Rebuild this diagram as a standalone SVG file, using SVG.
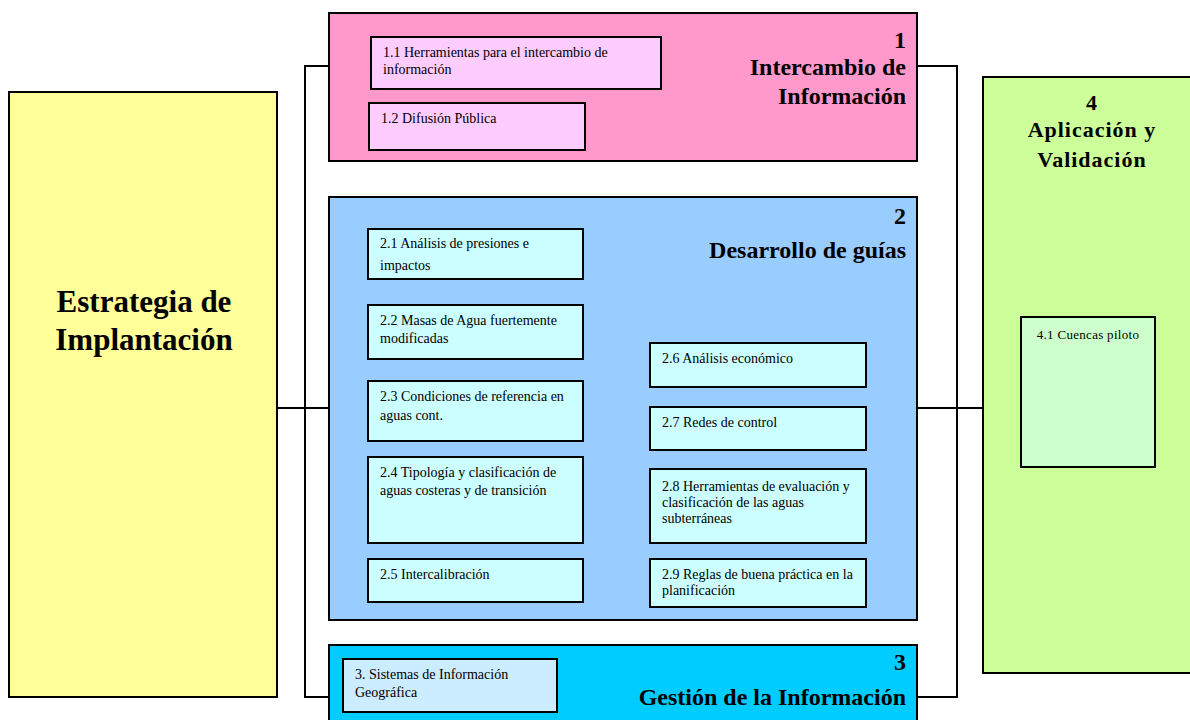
<svg xmlns="http://www.w3.org/2000/svg" width="1190" height="720" viewBox="0 0 1190 720">
<style>
.box{stroke:#000;stroke-width:2}
.sub{stroke:#000;stroke-width:2}
.t{font-family:"Liberation Serif","Times New Roman",serif;font-size:14px;fill:#000}
.h{font-family:"Liberation Serif","Times New Roman",serif;font-weight:bold;font-size:24px;fill:#000;text-anchor:end}
.h4{font-family:"Liberation Serif","Times New Roman",serif;font-weight:bold;font-size:22px;letter-spacing:1px;fill:#000;text-anchor:middle}
.big{font-family:"Liberation Serif","Times New Roman",serif;font-weight:bold;font-size:31px;fill:#000;text-anchor:middle}
.conn{stroke:#000;stroke-width:2;fill:none}
</style>
<rect width="1190" height="720" fill="#fff"/>
<g id="connectors">
<polyline class="conn" points="329,66 305,66 305,697 329,697"/>
<line class="conn" x1="277" y1="408" x2="329" y2="408"/>
<polyline class="conn" points="917,66 957,66 957,697 917,697"/>
<line class="conn" x1="917" y1="408" x2="983" y2="408"/>
</g>
<g id="estrategia">
<rect class="box" x="9" y="92" width="268" height="605" fill="#FFFF99"/>
<text class="big" x="144" y="312">Estrategia de</text>
<text class="big" x="144" y="350">Implantación</text>
</g>
<g id="box1">
<rect class="box" x="329" y="13" width="588" height="148" fill="#FF99CC"/>
<text class="h" x="906" y="48">1</text>
<text class="h" x="906" y="75">Intercambio de</text>
<text class="h" x="906" y="104">Información</text>
</g>
<g id="n11">
<rect class="sub" x="371" y="37" width="290" height="52" fill="#FFCCFF"/>
<text class="t" x="383" y="57">1.1 Herramientas para el intercambio de</text>
<text class="t" x="383" y="74">información</text>
</g>
<g id="n12">
<rect class="sub" x="369" y="103" width="216" height="47" fill="#FFCCFF"/>
<text class="t" x="381" y="123">1.2 Difusión Pública</text>
</g>
<g id="box2">
<rect class="box" x="329" y="197" width="588" height="423" fill="#99CCFF"/>
<text class="h" x="906" y="224">2</text>
<text class="h" x="906" y="258">Desarrollo de guías</text>
</g>
<g id="n21">
<rect class="sub" x="368" y="229" width="215" height="50" fill="#CCFFFF"/>
<text class="t" x="380" y="248">2.1 Análisis de  presiones e</text>
<text class="t" x="380" y="270">impactos</text>
</g>
<g id="n22">
<rect class="sub" x="368" y="305" width="215" height="54" fill="#CCFFFF"/>
<text class="t" x="380" y="325">2.2 Masas de Agua fuertemente</text>
<text class="t" x="380" y="343">modificadas</text>
</g>
<g id="n23">
<rect class="sub" x="368" y="381" width="215" height="60" fill="#CCFFFF"/>
<text class="t" x="380" y="401">2.3 Condiciones de referencia en</text>
<text class="t" x="380" y="420">aguas cont.</text>
</g>
<g id="n24">
<rect class="sub" x="368" y="457" width="215" height="86" fill="#CCFFFF"/>
<text class="t" x="380" y="477">2.4 Tipología y clasificación de</text>
<text class="t" x="380" y="495">aguas costeras y de transición</text>
</g>
<g id="n25">
<rect class="sub" x="368" y="559" width="215" height="43" fill="#CCFFFF"/>
<text class="t" x="380" y="579">2.5 Intercalibración</text>
</g>
<g id="n26">
<rect class="sub" x="650" y="343" width="216" height="44" fill="#CCFFFF"/>
<text class="t" x="662" y="363">2.6 Análisis económico</text>
</g>
<g id="n27">
<rect class="sub" x="650" y="407" width="216" height="43" fill="#CCFFFF"/>
<text class="t" x="662" y="427">2.7 Redes de control</text>
</g>
<g id="n28">
<rect class="sub" x="650" y="469" width="216" height="74" fill="#CCFFFF"/>
<text class="t" x="662" y="491">2.8 Herramientas de evaluación y</text>
<text class="t" x="662" y="507">clasificación de las aguas</text>
<text class="t" x="662" y="523">subterráneas</text>
</g>
<g id="n29">
<rect class="sub" x="650" y="559" width="216" height="48" fill="#CCFFFF"/>
<text class="t" x="662" y="579">2.9 Reglas de buena práctica en la</text>
<text class="t" x="662" y="595">planificación</text>
</g>
<g id="box3">
<rect class="box" x="329" y="645" width="588" height="85" fill="#00CCFF"/>
<text class="h" x="906" y="670">3</text>
<text class="h" x="906" y="705">Gestión de la Información</text>
</g>
<g id="n3">
<rect class="sub" x="343" y="659" width="214" height="53" fill="#CCECFF"/>
<text class="t" x="355" y="679">3. Sistemas de Información</text>
<text class="t" x="355" y="697">Geográfica</text>
</g>
<g id="box4">
<rect class="box" x="983" y="77" width="217" height="596" fill="#CCFF99"/>
<text class="h4" x="1092" y="110">4</text>
<text class="h4" x="1092" y="137">Aplicación y</text>
<text class="h4" x="1092" y="167">Validación</text>
</g>
<g id="n41">
<rect class="sub" x="1021" y="317" width="134" height="150" fill="#CCFFCC"/>
<text class="t" x="1088" y="339" text-anchor="middle" style="font-size:13px;letter-spacing:0.3px">4.1 Cuencas piloto</text>
</g>
</svg>
